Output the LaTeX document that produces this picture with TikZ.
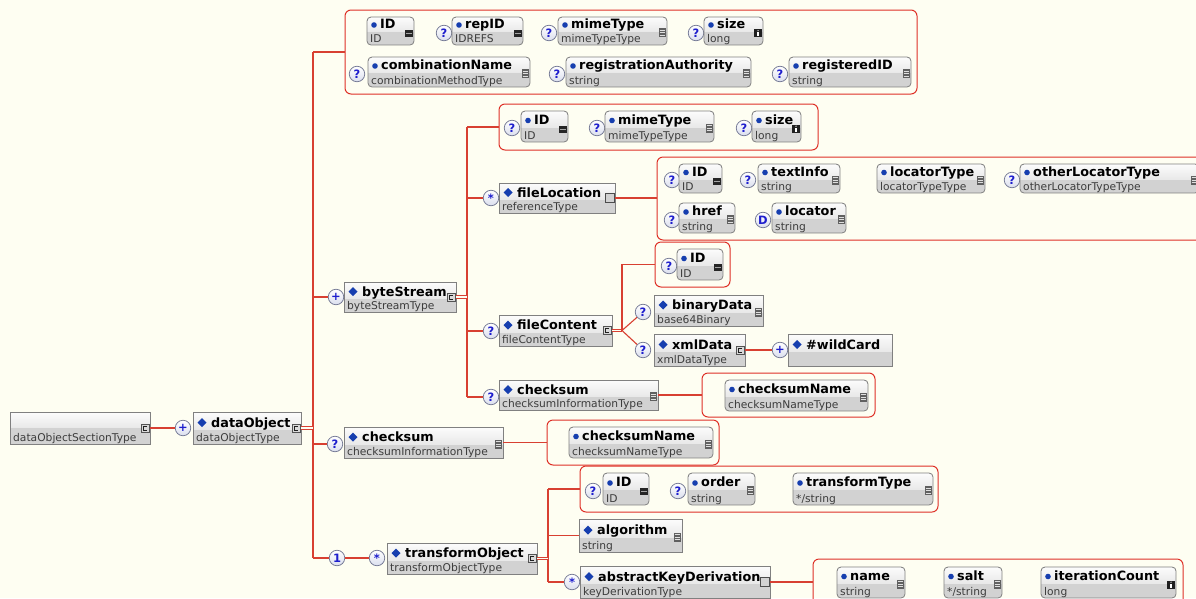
\documentclass[tikz,border=0pt]{standalone}
\usepackage{fontspec}
\setmainfont{DejaVu Sans}
\usetikzlibrary{calc}
\definecolor{bgc}{RGB}{254,254,242}
\definecolor{linered}{RGB}{216,64,50}
\definecolor{grpred}{RGB}{222,48,38}
\definecolor{boxgray}{RGB}{128,128,128}
\definecolor{typeg}{RGB}{210,210,210}
\definecolor{topw}{RGB}{252,252,252}
\definecolor{topg}{RGB}{232,232,232}
\definecolor{markblue}{RGB}{22,62,175}
\definecolor{occblue}{RGB}{30,30,205}
\definecolor{occfill}{RGB}{218,222,238}
\definecolor{occborder}{RGB}{115,120,148}
\definecolor{typetext}{RGB}{60,60,60}
% icons: #1 = right edge x, #2 = middle y
\newcommand\iconc[2]{%
  \filldraw[fill=gray!30,draw=gray!65!black,line width=0.6pt] (#1-9,#2-4) rectangle (#1-1,#2+4);
  \draw[gray!25!black,line width=0.6pt] (#1-3,#2-2) -- (#1-6.5,#2-2) -- (#1-6.5,#2+2) -- (#1-3,#2+2);}
\newcommand\iconlines[2]{%
  \fill[gray!75!black] (#1-8,#2-3) rectangle (#1-1,#2+6);
  \draw[gray!25,line width=0.5pt] (#1-7.3,#2-1) -- (#1-1.7,#2-1) (#1-7.3,#2+1.5) -- (#1-1.7,#2+1.5) (#1-7.3,#2+4) -- (#1-1.7,#2+4);}
\newcommand\iconid[2]{%
  \fill[gray!30!black] (#1-9,#2-1) rectangle (#1-1,#2+6);
  \draw[gray!70,line width=0.6pt] (#1-8,#2+2.5) -- (#1-2,#2+2.5);}
\newcommand\iconi[2]{%
  \fill[gray!25!black] (#1-9,#2-2) rectangle (#1-1,#2+6);
  \fill[white] (#1-5.6,#2+1) rectangle (#1-4.4,#2+5);
  \fill[white] (#1-5,#2-0.3) circle (0.7pt);}
\newcommand\iconempty[2]{%
  \filldraw[fill=gray!35,draw=gray!60!black,line width=0.6pt] (#1-10,#2-4.5) rectangle (#1-1,#2+4.5);}
\newcommand\iconnone[2]{}
% element box: name, x1, y1, x2, y2, label, type, icon
\newcommand\elbox[8]{%
  \pgfmathsetmacro\bxc{(#2+#4)/2}\pgfmathsetmacro\bxm{(#3+#5)/2}%
  \pgfmathsetmacro\bxw{#4-#2}\pgfmathsetmacro\bxh{#5-#3}%
  \begin{scope}
    \clip (#2,#3) rectangle (#4,#5);
    \fill[top color=topw,bottom color=topg] (#2,#3) rectangle (#4,\bxm+2);
    \fill[typeg] (#2,\bxm+2) rectangle (#4,#5);
  \end{scope}
  \node[boxframe,minimum width=\bxw pt,minimum height=\bxh pt] (#1) at (\bxc,\bxm) {};
  \fill[markblue] (#2+9,\bxm-10) -- (#2+13.5,\bxm-5.5) -- (#2+9,\bxm-1) -- (#2+4.5,\bxm-5.5) -- cycle;
  \node[lab] (#1l) at (#2+18,\bxm-1) {#6};
  \node[typ] (#1t) at (#2+3,#5-2.5) {#7};
  #8{#4}{\bxm}%
}
% attribute box
\newcommand\atbox[8]{%
  \pgfmathsetmacro\bxc{(#2+#4)/2}\pgfmathsetmacro\bxm{(#3+#5)/2}%
  \pgfmathsetmacro\bxw{#4-#2}\pgfmathsetmacro\bxh{#5-#3}%
  \begin{scope}
    \clip[rounded corners=4pt] (#2,#3) rectangle (#4,#5);
    \fill[top color=topw,bottom color=topg] (#2,#3) rectangle (#4,\bxm+1);
    \fill[typeg] (#2,\bxm+1) rectangle (#4,#5);
  \end{scope}
  \node[boxframe,rounded corners=4pt,minimum width=\bxw pt,minimum height=\bxh pt] (#1) at (\bxc,\bxm) {};
  \fill[markblue] (#2+7,\bxm-6) circle (2.8pt);
  \node[lab] (#1l) at (#2+13,\bxm-2.5) {#6};
  \node[typ] (#1t) at (#2+3,#5-2.5) {#7};
  #8{#4}{\bxm}%
}
\newcommand\grpbox[5]{%
  \pgfmathsetmacro\bxc{(#2+#4)/2}\pgfmathsetmacro\bxm{(#3+#5)/2}%
  \pgfmathsetmacro\bxw{#4-#2}\pgfmathsetmacro\bxh{#5-#3}%
  \node[grp,minimum width=\bxw pt,minimum height=\bxh pt] (#1) at (\bxc,\bxm) {};}
\begin{document}
\begin{tikzpicture}[x=1pt,y=-1pt,
  conn/.style={draw=linered,line width=1.1pt},
  dbl/.style={draw=linered,line width=0.85pt,double=bgc,double distance=1.5pt},
  grp/.style={draw=grpred,line width=1pt,rounded corners=6pt,inner sep=0pt,outer sep=0pt},
  boxframe/.style={draw=boxgray,line width=0.8pt,inner sep=0pt,outer sep=0pt},
  lab/.style={anchor=base west,inner sep=0pt,font=\bfseries\fontsize{12.8}{14}\selectfont},
  typ/.style={anchor=base west,inner sep=0pt,text=typetext,font=\fontsize{10.7}{12}\selectfont},
  occ/.style={circle,draw=occborder,line width=0.75pt,top color=white,bottom color=occfill,
    minimum size=15.5pt,inner sep=0pt,text=occblue,font=\bfseries\fontsize{11.5}{11.5}\selectfont}]
\useasboundingbox (0,0) rectangle (1196,598);
\fill[bgc] (0,0) rectangle (1196,598);
\clip (0,0) rectangle (1196,598);

% ---------- groups ----------
\grpbox{A1}{345}{10}{917}{94}
\grpbox{A2}{499}{104}{818}{150}
\grpbox{A3}{657}{157}{1215}{240}
\grpbox{A4}{655}{242}{730}{287}
\grpbox{A5}{702}{373}{875}{417}
\grpbox{A6}{547}{420}{719}{465}
\grpbox{A7}{580}{466}{938}{512}
\grpbox{A8}{813}{559}{1183}{612}

% ---------- root ----------
\begin{scope}
  \clip (10,412) rectangle (150,444);
  \fill[top color=topw,bottom color=topg] (10,412) rectangle (150,428);
  \fill[typeg] (10,428) rectangle (150,444);
\end{scope}
\node[boxframe,minimum width=140pt,minimum height=32pt] (root) at (80,428) {};
\node[typ] (roott) at (13,441) {dataObjectSectionType};
\iconc{150}{428}
\node[occ] (pDO) at (183,428) {+};
\elbox{dobj}{193}{412}{301}{444}{dataObject}{dataObjectType}{\iconc}

% ---------- attributes of dataObject ----------
\atbox{a1id}{367}{17}{414}{45}{ID}{ID}{\iconid}
\node[occ] (qa1rep) at (444,33) {?};
\atbox{a1rep}{452}{17}{523}{45}{repID}{IDREFS}{\iconid}
\node[occ] (qa1mime) at (549,33) {?};
\atbox{a1mime}{558}{17}{667}{45}{mimeType}{mimeTypeType}{\iconlines}
\node[occ] (qa1size) at (696,33) {?};
\atbox{a1size}{704}{17}{763}{45}{size}{long}{\iconi}
\node[occ] (qa1comb) at (357,74) {?};
\atbox{a1comb}{368}{57}{530}{87}{combinationName}{combinationMethodType}{\iconlines}
\node[occ] (qa1reg) at (557,74) {?};
\atbox{a1reg}{566}{57}{751}{87}{registrationAuthority}{string}{\iconlines}
\node[occ] (qa1rid) at (780,74) {?};
\atbox{a1rid}{789}{57}{911}{87}{registeredID}{string}{\iconlines}

% ---------- byteStream ----------
\node[occ] (pBS) at (336,297) {+};
\elbox{bs}{344}{282}{456}{312}{byteStream}{byteStreamType}{\iconc}
\node[occ] (qa2id) at (512,128) {?};
\atbox{a2id}{521}{111}{568}{142}{ID}{ID}{\iconid}
\node[occ] (qa2mime) at (597,128) {?};
\atbox{a2mime}{605}{111}{714}{142}{mimeType}{mimeTypeType}{\iconlines}
\node[occ] (qa2size) at (744,128) {?};
\atbox{a2size}{752}{111}{801}{142}{size}{long}{\iconi}

% fileLocation
\node[occ] (sFL) at (491,198) {*};
\elbox{fl}{499}{183}{615}{213}{fileLocation}{referenceType}{\iconempty}
\node[occ] (qa3id) at (672,180) {?};
\atbox{a3id}{679}{164}{722}{193}{ID}{ID}{\iconid}
\node[occ] (qa3text) at (748,180) {?};
\atbox{a3text}{758}{164}{840}{193}{textInfo}{string}{\iconlines}
\atbox{a3loct}{877}{164}{985}{193}{locatorType}{locatorTypeType}{\iconlines}
\node[occ] (qa3oth) at (1012,180) {?};
\atbox{a3oth}{1020}{164}{1199}{193}{otherLocatorType}{otherLocatorTypeType}{\iconlines}
\node[occ] (qa3href) at (672,220) {?};
\atbox{a3href}{679}{203}{735}{233}{href}{string}{\iconlines}
\node[occ] (da3loc) at (763,220) {D};
\atbox{a3loc}{772}{203}{846}{233}{locator}{string}{\iconlines}

% fileContent
\node[occ] (qfc) at (491,331) {?};
\elbox{fc}{499}{315}{612}{346}{fileContent}{fileContentType}{\iconc}
\coordinate (jFC) at (622,330.5);
\node[occ] (qa4id) at (669,266) {?};
\atbox{a4id}{677}{249}{723}{280}{ID}{ID}{\iconid}
\node[occ] (qbd) at (643,312) {?};
\elbox{bd}{654}{295}{763}{326}{binaryData}{base64Binary}{\iconlines}
\node[occ] (qxd) at (643,350) {?};
\elbox{xd}{654}{334}{745}{366}{xmlData}{xmlDataType}{\iconc}
\node[occ] (pWC) at (780,350) {+};
\elbox{wc}{788}{334}{892}{366}{\#wildCard}{}{\iconnone}

% checksum of byteStream
\node[occ] (qcs1) at (491,397) {?};
\elbox{cs1}{499}{380}{658}{410}{checksum}{checksumInformationType}{\iconlines}
\atbox{csn1}{725}{380}{868}{411}{checksumName}{checksumNameType}{\iconlines}

% ---------- checksum of dataObject ----------
\node[occ] (qcs2) at (335,444) {?};
\elbox{cs2}{344}{427}{503}{458}{checksum}{checksumInformationType}{\iconlines}
\atbox{csn2}{569}{427}{713}{458}{checksumName}{checksumNameType}{\iconlines}

% ---------- transformObject ----------
\node[occ] (one) at (337,558) {1};
\node[occ] (sTO) at (377,558) {*};
\elbox{to}{387}{543}{537}{574}{transformObject}{transformObjectType}{\iconc}
\node[occ] (qa7id) at (593,491) {?};
\atbox{a7id}{603}{473}{649}{505}{ID}{ID}{\iconid}
\node[occ] (qa7ord) at (678,491) {?};
\atbox{a7ord}{688}{473}{755}{505}{order}{string}{\iconlines}
\atbox{a7tt}{793}{473}{933}{505}{transformType}{*/string}{\iconlines}
\elbox{alg}{579}{519}{682}{552}{algorithm}{string}{\iconlines}
\node[occ] (sAKD) at (572,582) {*};
\elbox{akd}{580}{566}{770}{598}{abstractKeyDerivation}{keyDerivationType}{\iconempty}
\atbox{a8name}{837}{567}{905}{598}{name}{string}{\iconlines}
\atbox{a8salt}{944}{567}{1002}{598}{salt}{*/string}{\iconlines}
\atbox{a8iter}{1041}{567}{1176}{598}{iterationCount}{long}{\iconi}

% ---------- connectors ----------
\coordinate (T0top) at (313,52);
\coordinate (T0bot) at (313,558);
\coordinate (T1top) at (467,127);
\coordinate (T1bot) at (467,397);
\coordinate (T2top) at (548,489);
\coordinate (T2bot) at (548,582);

\draw[conn] (root.east) -- (pDO);
\draw[conn] (T0top) -- (T0bot);
\draw[dbl] (dobj.east) -- (T0top |- dobj.east);
\draw[conn] (T0top) -- (T0top -| A1.west);
\draw[conn] (T0top |- pBS) -- (pBS);
\draw[conn] (T0top |- qcs2) -- (qcs2);
\draw[conn] (T0bot) -- (one);
\draw[conn] (one) -- (sTO);

\draw[conn] (T1top) -- (T1bot);
\draw[dbl] (bs.east) -- (T1top |- bs.east);
\draw[conn] (T1top) -- (T1top -| A2.west);
\draw[conn] (T1top |- sFL) -- (sFL);
\draw[conn] (T1top |- qfc) -- (qfc);
\draw[conn] (T1bot) -- (qcs1);

\draw[conn] (fl.east) -- (fl.east -| A3.west);
\draw[dbl] (fc.east) -- (jFC);
\draw[conn] (jFC) |- (A4.west);
\draw[conn] (jFC) -- (qbd);
\draw[conn] (jFC) -- (qxd);
\draw[conn] (xd.east) -- (pWC);
\draw[conn] (cs1.east) -- (cs1.east -| A5.west);
\draw[conn] (cs2.east) -- (cs2.east -| A6.west);

\draw[conn] (T2top) -- (T2bot);
\draw[dbl] (to.east) -- (T2top |- to.east);
\draw[conn] (T2top) -- (T2top -| A7.west);
\draw[conn] (T2top |- alg.west) -- (alg.west);
\draw[conn] (T2bot) -- (sAKD);
\draw[conn] (akd.east) -- (akd.east -| A8.west);
\end{tikzpicture}
\end{document}
